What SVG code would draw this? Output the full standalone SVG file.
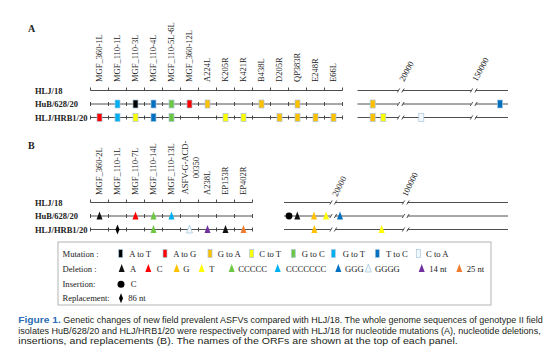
<svg xmlns="http://www.w3.org/2000/svg" xmlns:xlink="http://www.w3.org/1999/xlink" width="554" height="359" viewBox="0 0 554 359">
<style>
.serif{font-family:"Liberation Serif","Times New Roman",serif;fill:#222}
.lab{font-size:8.5px}
.row{font-size:8.5px;font-weight:bold}
.pan{font-size:10px;font-weight:bold}
.leg{font-size:8.6px}
.ln{stroke:#3a3a3a;stroke-width:0.9;fill:none}
.mk{stroke:#a9c6dc;stroke-width:0.7}
.cap{font-family:"Liberation Sans",Arial,sans-serif;font-size:9px;fill:#231f20}
.fig{font-weight:bold;fill:#2a6db5}
</style>
<defs>
<rect id="mk" x="-2.5" y="-4" width="5" height="8"/>
<rect id="lmk" x="-2" y="-4" width="4" height="8"/>
<path id="tri" d="M0,-4.5 L3,3.5 L-3,3.5 Z"/>
<path id="dia" d="M0,-5 L2,0 L0,5 L-2,0 Z"/>
</defs>
<rect width="554" height="359" fill="#fff"/>

<g id="panelA-labels" class="serif lab">
<text class="pan" x="28" y="32">A</text>
<text transform="translate(102.3,82) rotate(-90)">MGF_360-1L</text>
<text transform="translate(120.3,82) rotate(-90)">MGF_110-1L</text>
<text transform="translate(138.3,82) rotate(-90)">MGF_110-3L</text>
<text transform="translate(156.3,82) rotate(-90)">MGF_110-4L</text>
<text transform="translate(174.3,82) rotate(-90)">MGF_110-5L-6L</text>
<text transform="translate(192.3,82) rotate(-90)">MGF_360-12L</text>
<text transform="translate(210.3,82) rotate(-90)">A224L</text>
<text transform="translate(228.3,82) rotate(-90)">K205R</text>
<text transform="translate(246.3,82) rotate(-90)">K421R</text>
<text transform="translate(264.3,82) rotate(-90)">B438L</text>
<text transform="translate(282.3,82) rotate(-90)">D205R</text>
<text transform="translate(300.3,82) rotate(-90)">QP383R</text>
<text transform="translate(318.3,82) rotate(-90)">E248R</text>
<text transform="translate(336.3,82) rotate(-90)">E66L</text>
<text transform="translate(404,82) rotate(-62)">20000</text>
<text transform="translate(477,82) rotate(-62)">150000</text>
</g>

<g id="panelA-rows">
<g class="serif row">
<text x="35" y="93.5">HLJ/18</text>
<text x="35" y="107">HuB/628/20</text>
<text x="35" y="120.5">HLJ/HRB1/20</text>
</g>
<g id="connectorsA" class="ln">
<path d="M90.5 90.5H342.5M90.5 87.5V90.5M108.5 87.5V90.5M126.5 87.5V90.5M144.5 87.5V90.5M162.5 87.5V90.5M180.5 87.5V90.5M198.5 87.5V90.5M216.5 87.5V90.5M234.5 87.5V90.5M252.5 87.5V90.5M270.5 87.5V90.5M288.5 87.5V90.5M306.5 87.5V90.5M324.5 87.5V90.5M342.5 87.5V90.5"/>
<path d="M90.5 104H342.5M90.5 102V106M108.5 102V106M126.5 102V106M144.5 102V106M162.5 102V106M180.5 102V106M198.5 102V106M216.5 102V106M234.5 102V106M252.5 102V106M270.5 102V106M288.5 102V106M306.5 102V106M324.5 102V106M342.5 102V106"/>
<path d="M90.5 117.5H342.5M90.5 115.5V119.5M108.5 115.5V119.5M126.5 115.5V119.5M144.5 115.5V119.5M162.5 115.5V119.5M180.5 115.5V119.5M198.5 115.5V119.5M216.5 115.5V119.5M234.5 115.5V119.5M252.5 115.5V119.5M270.5 115.5V119.5M288.5 115.5V119.5M306.5 115.5V119.5M324.5 115.5V119.5M342.5 115.5V119.5"/>
<path d="M357.5 90.5H398M402.5 90.5H471M475.5 90.5H508M397.3 92.5L399.7 88.5M401.8 92.5L404.2 88.5M470.3 92.5L472.7 88.5M474.8 92.5L477.2 88.5"/>
<path d="M357.5 104H398M402.5 104H471M475.5 104H508M397.3 106L399.7 102M401.8 106L404.2 102M470.3 106L472.7 102M474.8 106L477.2 102"/>
<path d="M357.5 117.5H398M402.5 117.5H471M475.5 117.5H508M397.3 119.5L399.7 115.5M401.8 119.5L404.2 115.5M470.3 119.5L472.7 115.5M474.8 119.5L477.2 115.5"/>
</g>
<g id="markersA" class="mk">
<use xlink:href="#mk" x="117.5" y="104" fill="#00b0f0"/>
<use xlink:href="#mk" x="135.5" y="104" fill="#000"/>
<use xlink:href="#mk" x="153.5" y="104" fill="#0070c0"/>
<use xlink:href="#mk" x="171.5" y="104" fill="#6cc644"/>
<use xlink:href="#mk" x="189.5" y="104" fill="#ff0000"/>
<use xlink:href="#mk" x="207.5" y="104" fill="#ffc000"/>
<use xlink:href="#mk" x="261.5" y="104" fill="#ffc000"/>
<use xlink:href="#mk" x="297.5" y="104" fill="#ffc000"/>
<use xlink:href="#mk" x="372.7" y="104" fill="#ffc000"/>
<use xlink:href="#mk" x="500" y="104" fill="#0070c0"/>
<use xlink:href="#mk" x="99.5" y="117.5" fill="#ff0000"/>
<use xlink:href="#mk" x="117.5" y="117.5" fill="#00b0f0"/>
<use xlink:href="#mk" x="135.5" y="117.5" fill="#ffff00"/>
<use xlink:href="#mk" x="153.5" y="117.5" fill="#0070c0"/>
<use xlink:href="#mk" x="171.5" y="117.5" fill="#6cc644"/>
<use xlink:href="#mk" x="225.5" y="117.5" fill="#ffff00"/>
<use xlink:href="#mk" x="243.5" y="117.5" fill="#ffff00"/>
<use xlink:href="#mk" x="279.5" y="117.5" fill="#ffc000"/>
<use xlink:href="#mk" x="297.5" y="117.5" fill="#ffc000"/>
<use xlink:href="#mk" x="315.5" y="117.5" fill="#ffc000"/>
<use xlink:href="#mk" x="333.5" y="117.5" fill="#ffc000"/>
<use xlink:href="#mk" x="372.7" y="117.5" fill="#ffc000"/>
<use xlink:href="#mk" x="383.3" y="117.5" fill="#ffff00"/>
<use xlink:href="#mk" x="421.3" y="117.5" fill="#f2f7fb"/>
</g>
</g>

<g id="panelB-labels" class="serif lab">
<text class="pan" x="28" y="149">B</text>
<text transform="translate(102.3,195) rotate(-90)">MGF_360-2L</text>
<text transform="translate(120.3,195) rotate(-90)">MGF_110-1L</text>
<text transform="translate(138.3,195) rotate(-90)">MGF_110-7L</text>
<text transform="translate(156.3,195) rotate(-90)">MGF_110-14L</text>
<text transform="translate(174.3,195) rotate(-90)">MGF_110-13L</text>
<text text-anchor="middle" transform="translate(187.8,167.5) rotate(-90)">ASFV-G-ACD-</text>
<text text-anchor="middle" transform="translate(198.8,167.5) rotate(-90)">00350</text>
<text transform="translate(210.3,195) rotate(-90)">A238L</text>
<text transform="translate(228.3,195) rotate(-90)">EP153R</text>
<text transform="translate(246.3,195) rotate(-90)">EP402R</text>
<text transform="translate(337,197) rotate(-63)">20000</text>
<text transform="translate(407,197) rotate(-64)">100000</text>
</g>

<g id="panelB-rows">
<g class="serif row">
<text x="35" y="205.5">HLJ/18</text>
<text x="35" y="219">HuB/628/20</text>
<text x="35" y="232.5">HLJ/HRB1/20</text>
</g>
<g id="connectorsB" class="ln">
<path d="M90.5 202.5H252.5M90.5 199.5V202.5M108.5 199.5V202.5M126.5 199.5V202.5M144.5 199.5V202.5M162.5 199.5V202.5M180.5 199.5V202.5M198.5 199.5V202.5M216.5 199.5V202.5M234.5 199.5V202.5M252.5 199.5V202.5"/>
<path d="M90.5 216H252.5M90.5 214V218M108.5 214V218M126.5 214V218M144.5 214V218M162.5 214V218M180.5 214V218M198.5 214V218M216.5 214V218M234.5 214V218M252.5 214V218"/>
<path d="M90.5 229.5H252.5M90.5 227.5V231.5M108.5 227.5V231.5M126.5 227.5V231.5M144.5 227.5V231.5M162.5 227.5V231.5M180.5 227.5V231.5M198.5 227.5V231.5M216.5 227.5V231.5M234.5 227.5V231.5M252.5 227.5V231.5"/>
<path d="M284 202.5H330.5M335 202.5H403M407.5 202.5H508M329.8 204.5L332.2 200.5M334.3 204.5L336.7 200.5M402.3 204.5L404.7 200.5M406.8 204.5L409.2 200.5"/>
<path d="M284 216H330.5M335 216H403M407.5 216H508M329.8 218L332.2 214M334.3 218L336.7 214M402.3 218L404.7 214M406.8 218L409.2 214"/>
<path d="M284 229.5H330.5M335 229.5H403M407.5 229.5H508M329.8 231.5L332.2 227.5M334.3 231.5L336.7 227.5M402.3 231.5L404.7 227.5M406.8 231.5L409.2 227.5"/>
</g>
<g id="markersB">
<use xlink:href="#tri" x="99.5" y="216" fill="#111"/>
<use xlink:href="#tri" x="135.5" y="216" fill="#ff0000"/>
<use xlink:href="#tri" x="153.5" y="216" fill="#6cc644"/>
<use xlink:href="#tri" x="171.5" y="216" fill="#00b0f0"/>
<circle cx="289" cy="216" r="3.4" fill="#000"/>
<use xlink:href="#tri" x="297.3" y="216" fill="#111"/>
<use xlink:href="#tri" x="314" y="216" fill="#ffc000"/>
<use xlink:href="#tri" x="326" y="216" fill="#ffff00"/>
<use xlink:href="#tri" x="340" y="216" fill="#0070c0"/>
<use xlink:href="#dia" x="117.5" y="229.5" fill="#000"/>
<use xlink:href="#tri" x="153.5" y="229.5" fill="#6cc644"/>
<use xlink:href="#tri" x="189.5" y="229.5" fill="#f2f7fb" stroke="#9ec5e0" stroke-width="0.7"/>
<use xlink:href="#tri" x="207.5" y="229.5" fill="#7030a0"/>
<use xlink:href="#tri" x="225.5" y="229.5" fill="#111"/>
<use xlink:href="#tri" x="243.5" y="229.5" fill="#ed7d31"/>
<use xlink:href="#tri" x="314.3" y="229.5" fill="#ffc000"/>
<use xlink:href="#tri" x="381.7" y="229.5" fill="#ffff00"/>
</g>
</g>

<g id="legend">
<rect x="58" y="242" width="433" height="63" fill="none" stroke="#b4b4b4" stroke-width="1"/>
<g class="serif leg">
<text x="62.5" y="256.5">Mutation :</text>
<text x="62.5" y="271.5">Deletion :</text>
<text x="62.5" y="287.3">Insertion:</text>
<text x="62.5" y="301.3">Replacement:</text>
<text x="129.3" y="256.5">A to T</text>
<text x="173.3" y="256.5">A to G</text>
<text x="217.7" y="256.5">G to A</text>
<text x="259.3" y="256.5">C to T</text>
<text x="301.7" y="256.5">G to C</text>
<text x="342.7" y="256.5">G to T</text>
<text x="386" y="256.5">T to C</text>
<text x="426" y="256.5">C to A</text>
<text x="130" y="271.5">A</text>
<text x="156.7" y="271.5">C</text>
<text x="183.3" y="271.5">G</text>
<text x="209.3" y="271.5">T</text>
<text x="238.3" y="271.5">CCCCC</text>
<text x="286" y="271.5">CCCCCCC</text>
<text x="345" y="271.5">GGG</text>
<text x="375" y="271.5">GGGG</text>
<text x="429.3" y="271.5">14 nt</text>
<text x="466.7" y="271.5">25 nt</text>
<text x="130.7" y="287.3">C</text>
<text x="128.3" y="301.3">86 nt</text>
</g>
<g class="mk">
<use xlink:href="#lmk" x="120.7" y="253.5" fill="#000"/>
<use xlink:href="#lmk" x="165" y="253.5" fill="#ff0000"/>
<use xlink:href="#lmk" x="210" y="253.5" fill="#ffc000"/>
<use xlink:href="#lmk" x="251.7" y="253.5" fill="#ffff00"/>
<use xlink:href="#lmk" x="293.3" y="253.5" fill="#6cc644"/>
<use xlink:href="#lmk" x="333.3" y="253.5" fill="#00b0f0"/>
<use xlink:href="#lmk" x="377.3" y="253.5" fill="#0070c0"/>
<use xlink:href="#lmk" x="418.3" y="253.5" fill="#f2f7fb"/>
</g>
<use xlink:href="#tri" x="121.7" y="268.5" fill="#111"/>
<use xlink:href="#tri" x="148.3" y="268.5" fill="#ff0000"/>
<use xlink:href="#tri" x="176.7" y="268.5" fill="#ffc000"/>
<use xlink:href="#tri" x="201.7" y="268.5" fill="#ffff00"/>
<use xlink:href="#tri" x="231.7" y="268.5" fill="#6cc644"/>
<use xlink:href="#tri" x="277.7" y="268.5" fill="#00b0f0"/>
<use xlink:href="#tri" x="338.3" y="268.5" fill="#0070c0"/>
<use xlink:href="#tri" x="368.3" y="268.5" fill="#f2f7fb" stroke="#9ec5e0" stroke-width="0.7"/>
<use xlink:href="#tri" x="421.7" y="268.5" fill="#7030a0"/>
<use xlink:href="#tri" x="459.3" y="268.5" fill="#ed7d31"/>
<circle cx="121" cy="284.3" r="3.5" fill="#000"/>
<use xlink:href="#dia" x="121" y="298.3" fill="#000"/>
</g>

<g id="caption" class="cap">
<text x="18.3" y="323" class="fig" textLength="42.5" lengthAdjust="spacingAndGlyphs">Figure 1.</text>
<text x="63.3" y="323" textLength="479.4" lengthAdjust="spacingAndGlyphs">Genetic changes of new field prevalent ASFVs compared with HLJ/18. The whole genome sequences of genotype II field</text>
<text x="18.3" y="333.6" textLength="522.4" lengthAdjust="spacingAndGlyphs">isolates HuB/628/20 and HLJ/HRB1/20 were respectively compared with HLJ/18 for nucleotide mutations (A), nucleotide deletions,</text>
<text x="18.3" y="344.2" textLength="439.4" lengthAdjust="spacingAndGlyphs">insertions, and replacements (B). The names of the ORFs are shown at the top of each panel.</text>
</g>
</svg>
